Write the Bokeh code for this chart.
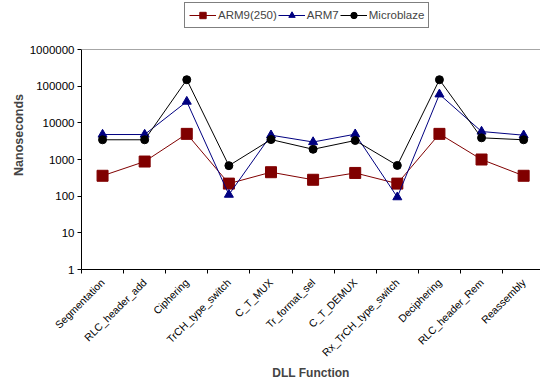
from bokeh.plotting import figure
from bokeh.models import (Range1d, FixedTicker, NumeralTickFormatter, Span, Legend, LegendItem)
from bokeh.embed import file_html
from bokeh.resources import INLINE

categories = ["Segmentation", "RLC_header_add", "Ciphering", "TrCH_type_switch", "C_T_MUX",
              "Tr_format_sel", "C_T_DEMUX", "Rx_TrCH_type_switch", "Deciphering",
              "RLC_header_Rem", "Reassembly"]
arm9 = [360, 880, 5000, 220, 450, 280, 430, 220, 5000, 1000, 360]
arm7 = [4800, 4800, 38000, 110, 4600, 3000, 4900, 94, 60000, 5800, 4600]
micro = [3450, 3450, 150000, 680, 3500, 1900, 3300, 690, 150000, 3900, 3450]
y_ticks = [1, 10, 100, 1000, 10000, 100000, 1000000]

FONT = "Liberation Sans"
x = list(range(len(categories)))

# layout geometry (pixels): plot frame spans the top of the page down to the x axis,
# so the legend can sit inside the frame above the 1e6 line
AXIS_Y = 269          # pixel row of the x axis
DECADES_PX = 220      # pixels from 1 to 1e6
y_top = 10 ** (6 * AXIS_Y / DECADES_PX)

p = figure(width=540, height=382, output_backend="svg", toolbar_location=None,
           y_axis_type="log", x_range=Range1d(-0.5, 10.4), y_range=Range1d(1, y_top),
           min_border_left=81, min_border_right=0, min_border_top=0,
           min_border_bottom=382 - AXIS_Y)
p.outline_line_color = None
p.xgrid.visible = False
p.ygrid.visible = False
p.background_fill_color = "white"
p.border_fill_color = "white"

p.add_layout(Span(location=y_ticks[-1], dimension="width", line_color="#a6a6a6", line_width=1))

r1l = p.line(x, arm9, line_color="#800000", line_width=1)
r1m = p.scatter(x, arm9, marker="square", size=11, fill_color="#800000", line_color="#800000")
r2l = p.line(x, arm7, line_color="#000080", line_width=1)
r2m = p.scatter(x, arm7, marker="triangle", size=9, fill_color="#000080", line_color="#000080")
r3l = p.line(x, micro, line_color="black", line_width=1)
r3m = p.scatter(x, micro, marker="circle", size=8, fill_color="black", line_color="black")

# axes
xa = p.xaxis[0]
xa.ticker = FixedTicker(ticks=x, minor_ticks=[i - 0.5 for i in range(len(categories) + 1)])
xa.major_label_overrides = {i: c for i, c in enumerate(categories)}
xa.major_label_orientation = 0.785398
xa.major_tick_line_color = None
xa.major_tick_out = 0
xa.major_tick_in = 0
xa.minor_tick_line_color = "black"
xa.minor_tick_out = 4
xa.minor_tick_in = 0
xa.major_label_standoff = 7
xa.major_label_text_font = FONT
xa.major_label_text_font_size = "10.5px"
xa.major_label_text_color = "black"
xa.axis_line_color = "black"
xa.axis_label = "DLL Function"
xa.axis_label_text_font = FONT
xa.axis_label_text_font_size = "12px"
xa.axis_label_text_font_style = "bold"
xa.axis_label_standoff = 0

ya = p.yaxis[0]
ya.bounds = (y_ticks[0], y_ticks[-1])
ya.ticker = FixedTicker(ticks=y_ticks, minor_ticks=[])
ya.formatter = NumeralTickFormatter(format="0")
ya.major_tick_out = 4
ya.major_tick_in = 0
ya.minor_tick_line_color = None
ya.major_label_standoff = 3
ya.major_label_text_font = FONT
ya.major_label_text_font_size = "11.5px"
ya.major_label_text_color = "black"
ya.axis_line_color = "black"
ya.axis_label = "Nanoseconds"
ya.axis_label_text_font = FONT
ya.axis_label_text_font_size = "12.5px"
ya.axis_label_text_font_style = "bold"
ya.axis_label_standoff = 1

legend = Legend(items=[LegendItem(label="ARM9(250)", renderers=[r1l, r1m]),
                       LegendItem(label="ARM7", renderers=[r2l, r2m]),
                       LegendItem(label="Microblaze", renderers=[r3l, r3m])],
                orientation="horizontal", location=(103, AXIS_Y - 28),
                border_line_color="black", border_line_width=1,
                background_fill_color="white", background_fill_alpha=1,
                padding=4, spacing=1, margin=0, glyph_width=27, glyph_height=16,
                label_height=16, label_standoff=2,
                label_text_font=FONT, label_text_font_size="11.5px")
p.add_layout(legend, "center")

open("out.html", "w").write(file_html(p, INLINE))
